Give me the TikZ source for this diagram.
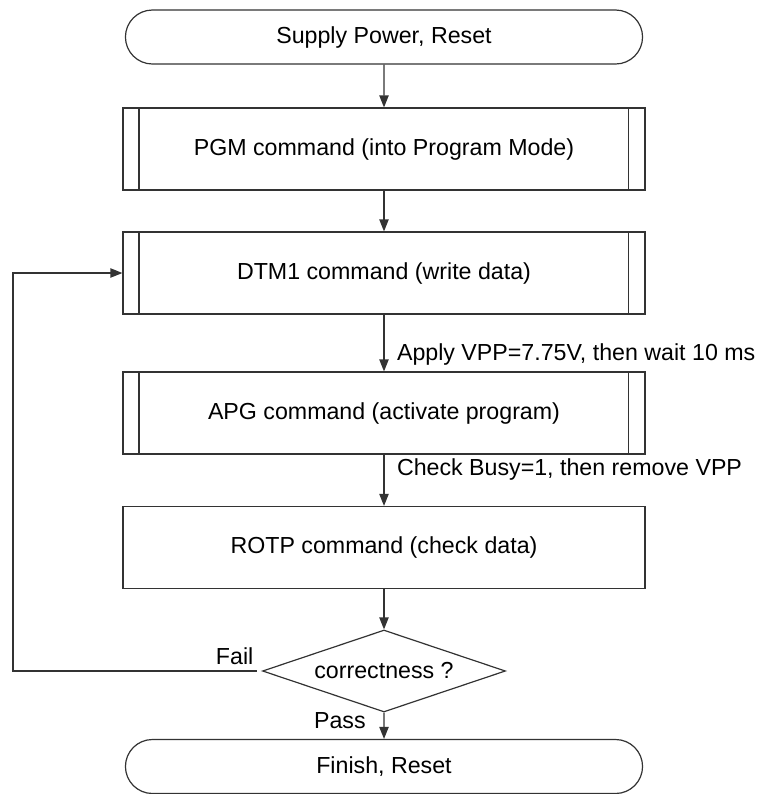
\documentclass[tikz,border=0pt]{standalone}
\usepackage{fontspec}
\setmainfont{Liberation Sans}
\usepackage{tikz}
\usetikzlibrary{arrows.meta}
\usetikzlibrary{shapes}
\usetikzlibrary{positioning}
\tikzstyle{terminal}=[draw,rounded rectangle,minimum width=394.5pt,minimum height=40.5pt]
\tikzstyle{process}=[draw,rectangle,minimum width=391.5pt,minimum height=61.5pt]
\tikzstyle{subproc}=[process,path picture={
  \draw ([xshift=12pt]path picture bounding box.north west) -- ([xshift=12pt]path picture bounding box.south west);
  \draw ([xshift=-12.5pt]path picture bounding box.north east) -- ([xshift=-12.5pt]path picture bounding box.south east);}]
\tikzstyle{decision}=[draw,diamond,aspect=2.96,minimum width=182.25pt,minimum height=61.5pt,inner sep=0pt]
\tikzstyle{flow}=[-{Triangle[length=9pt,width=7pt]}]
\tikzstyle{lbl}=[right,xshift=6pt]

\begin{document}
\begin{tikzpicture}[x=0.75pt,y=-0.75pt,line width=0.9pt,draw=black!80,font=\fontsize{17.4}{20}\selectfont]
\useasboundingbox (0,0) rectangle (760,794);
\node [terminal] (start) at (384,37) {Supply Power, Reset};
\node [subproc] (pgm) at (384,149) {PGM command (into Program Mode)};
\node [subproc] (dtm) at (384,273) {DTM1 command (write data)};
\node [subproc] (apg) at (384,413) {APG command (activate program)};
\node [process] (rotp) at (384,547.5) {ROTP command (check data)};
\node [decision] (check) at (384,671) {correctness ?};
\node [terminal] (finish) at (384,766.5) {Finish, Reset};
\coordinate (back) at (13,671);

\draw [flow] (start) -- (pgm);
\draw [flow] (pgm) -- (dtm);
\draw [flow] (dtm) -- node [lbl,pos=0.7] {Apply VPP=7.75V, then wait 10 ms} (apg);
\draw [flow] (apg) -- node [lbl,pos=0.3] {Check Busy=1, then remove VPP} (rotp);
\draw [flow] (rotp) -- (check);
\draw [flow] (check) -- node [left,pos=0.3,xshift=-10pt] {Pass} (finish);
\draw [flow] ([xshift=-4pt]check.west) -- node [above,pos=0.09,inner sep=4pt] {Fail} (back) |- (dtm.west);
\end{tikzpicture}
\end{document}
